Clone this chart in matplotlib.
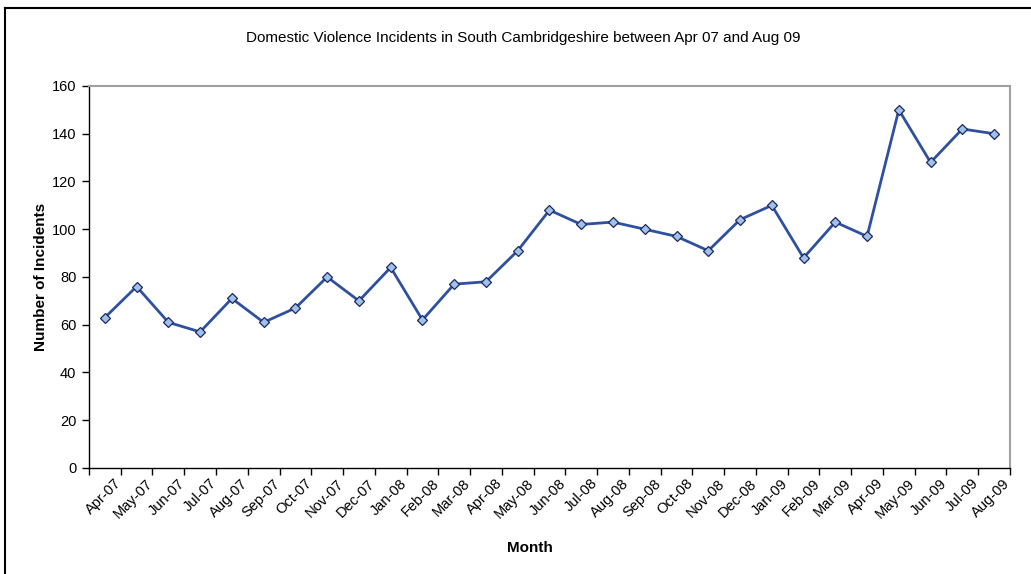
import matplotlib.pyplot as plt
import matplotlib.transforms as mtransforms
from matplotlib.lines import Line2D

plt.rcParams['font.family'] = ['Liberation Sans', 'DejaVu Sans']

meses = ['Apr-07', 'May-07', 'Jun-07', 'Jul-07', 'Aug-07', 'Sep-07', 'Oct-07', 'Nov-07',
         'Dec-07', 'Jan-08', 'Feb-08', 'Mar-08', 'Apr-08', 'May-08', 'Jun-08', 'Jul-08',
         'Aug-08', 'Sep-08', 'Oct-08', 'Nov-08', 'Dec-08', 'Jan-09', 'Feb-09', 'Mar-09',
         'Apr-09', 'May-09', 'Jun-09', 'Jul-09', 'Aug-09']
incidentes = [63, 76, 61, 57, 71, 61, 67, 80, 70, 84, 62, 77, 78, 91, 108, 102,
              103, 100, 97, 91, 104, 110, 88, 103, 97, 150, 128, 142, 140]
y_ticks = [0, 20, 40, 60, 80, 100, 120, 140, 160]

fig = plt.figure(figsize=(10.31, 5.74), dpi=100)
ax = fig.add_axes([0.0863, 0.1847, 0.8933, 0.6655])

x = list(range(len(meses)))
ax.plot(x, incidentes, color='#2E50A0', linewidth=2, marker='D', markersize=5.5,
        markerfacecolor='#9DC3E6', markeredgecolor='#1F2466', markeredgewidth=0.9)

ax.set_xlim(-0.5, len(meses) - 0.5)
ax.set_ylim(0, 160)
ax.set_yticks(y_ticks)
ax.tick_params(axis='y', direction='out', length=5, width=1, labelsize=10.5, pad=4)

# rótulos no centro, marcas entre categorias (estilo Excel)
ax.set_xticks(x)
ax.set_xticklabels(meses, rotation=45, ha='right', rotation_mode='anchor', fontsize=10.5)
ax.tick_params(axis='x', which='major', length=0, pad=6)
ax.set_xticks([i - 0.5 for i in range(len(meses) + 1)], minor=True)
ax.tick_params(axis='x', which='minor', direction='out', length=5, width=1)
desloc = mtransforms.ScaledTranslation(9 / 100, 0, fig.dpi_scale_trans)
for rot in ax.get_xticklabels():
    rot.set_transform(rot.get_transform() + desloc)

for lado in ['left', 'bottom']:
    ax.spines[lado].set_color('black')
    ax.spines[lado].set_linewidth(1)
for lado in ['top', 'right']:
    ax.spines[lado].set_color('#A0A0A0')
    ax.spines[lado].set_linewidth(1.5)

ax.set_xlabel('Month', fontsize=11, fontweight='bold')
ax.xaxis.set_label_coords(0.479, -0.19)
ax.set_ylabel('Number of Incidents', fontsize=11, fontweight='bold', labelpad=3)
fig.text(0.5078, 0.934, 'Domestic Violence Incidents in South Cambridgeshire between Apr 07 and Aug 09',
         ha='center', va='center', fontsize=11)

# moldura externa
fig.add_artist(Line2D([5 / 1031, 5 / 1031], [0, 1 - 8 / 574], color='black', linewidth=1.5))
fig.add_artist(Line2D([5 / 1031, 1], [1 - 8 / 574, 1 - 8 / 574], color='black', linewidth=1.5))

fig.savefig('out.png', dpi=100)
